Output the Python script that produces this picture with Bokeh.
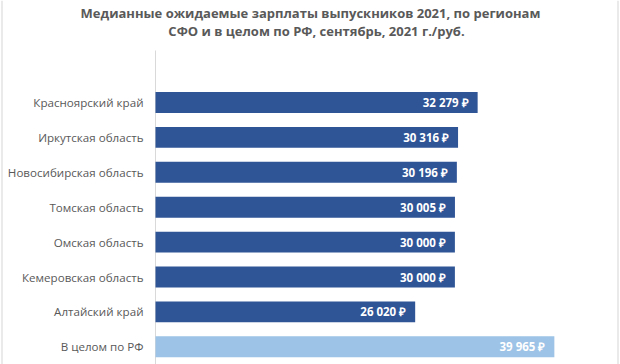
from bokeh.plotting import figure
from bokeh.models import Range1d, ColumnDataSource
from bokeh.core.properties import value
from bokeh.embed import file_html
from bokeh.resources import INLINE

title_lines = [
    "Медианные ожидаемые зарплаты выпускников 2021, по регионам",
    "СФО и в целом по РФ, сентябрь, 2021 г./руб.",
]
categories = [
    "Красноярский край",
    "Иркутская область",
    "Новосибирская область",
    "Томская область",
    "Омская область",
    "Кемеровская область",
    "Алтайский край",
    "В целом по РФ",
]
values = [32279, 30316, 30196, 30005, 30000, 30000, 26020, 39965]
total_category = "В целом по РФ"

DARK = "#2F5597"
LIGHT = "#9DC3E6"
GRAY = "#595959"
FONT = "Open Sans"

# ---- canvas geometry (pixels) ----
W, H = 620, 364
AXIS_PX = 155          # where value 0 sits
PX_PER_UNIT = 0.00998  # horizontal scale
ROW0_PX = 102          # centre of first category
ROW_PX = 34.9          # distance between categories


def px_x(px):
    return (px - AXIS_PX) / PX_PER_UNIT


def px_y(py):
    return (py - ROW0_PX) / ROW_PX


p = figure(width=W, height=H, output_backend="svg", toolbar_location=None,
           title=None,
           x_range=Range1d(px_x(0), px_x(W)),
           y_range=Range1d(px_y(H), px_y(0)),
           x_axis_type=None, y_axis_type=None,
           min_border_left=0, min_border_right=0, min_border_top=0,
           min_border_bottom=0)
p.outline_line_color = None
p.grid.visible = False

# faint frame lines at the picture's sides
p.segment(x0=[px_x(1.5), px_x(617.5)], x1=[px_x(1.5), px_x(617.5)],
          y0=[px_y(0)] * 2, y1=[px_y(H)] * 2,
          line_color="#E3E3E3", line_width=1.5)

# title
p.text(x=[px_x(310), px_x(316)], y=[px_y(12), px_y(30)], text=title_lines,
       text_align="center", text_baseline="alphabetic", text_color=GRAY,
       text_font=value(FONT), text_font_style="bold", text_font_size="13px")

# bars
ys = list(range(len(categories)))
labels = [f"{v:,}".replace(",", " ") + " ₽" for v in values]
colors = [LIGHT if c == total_category else DARK for c in categories]
src = ColumnDataSource(dict(y=ys, v=values, lab=labels, col=colors,
                            cat=categories, zero=[0] * len(ys)))

# category axis line
p.segment(x0=0, x1=0, y0=px_y(50), y1=px_y(H), line_color="#D9D9D9",
          line_width=1)

p.hbar(y="y", left=0, right="v", height=0.6, fill_color="col",
       line_color=None, source=src)
p.text(x="v", y="y", text="lab", source=src, x_offset=-9,
       text_align="right", text_baseline="middle", text_color="white",
       text_font=value(FONT), text_font_style="bold", text_font_size="11.5px")

# category labels
p.text(x="zero", y="y", text="cat", source=src, x_offset=-12,
       text_align="right", text_baseline="middle", text_color=GRAY,
       text_font=value(FONT), text_font_size="11.6px")

open("out.html", "w").write(file_html(p, INLINE))
